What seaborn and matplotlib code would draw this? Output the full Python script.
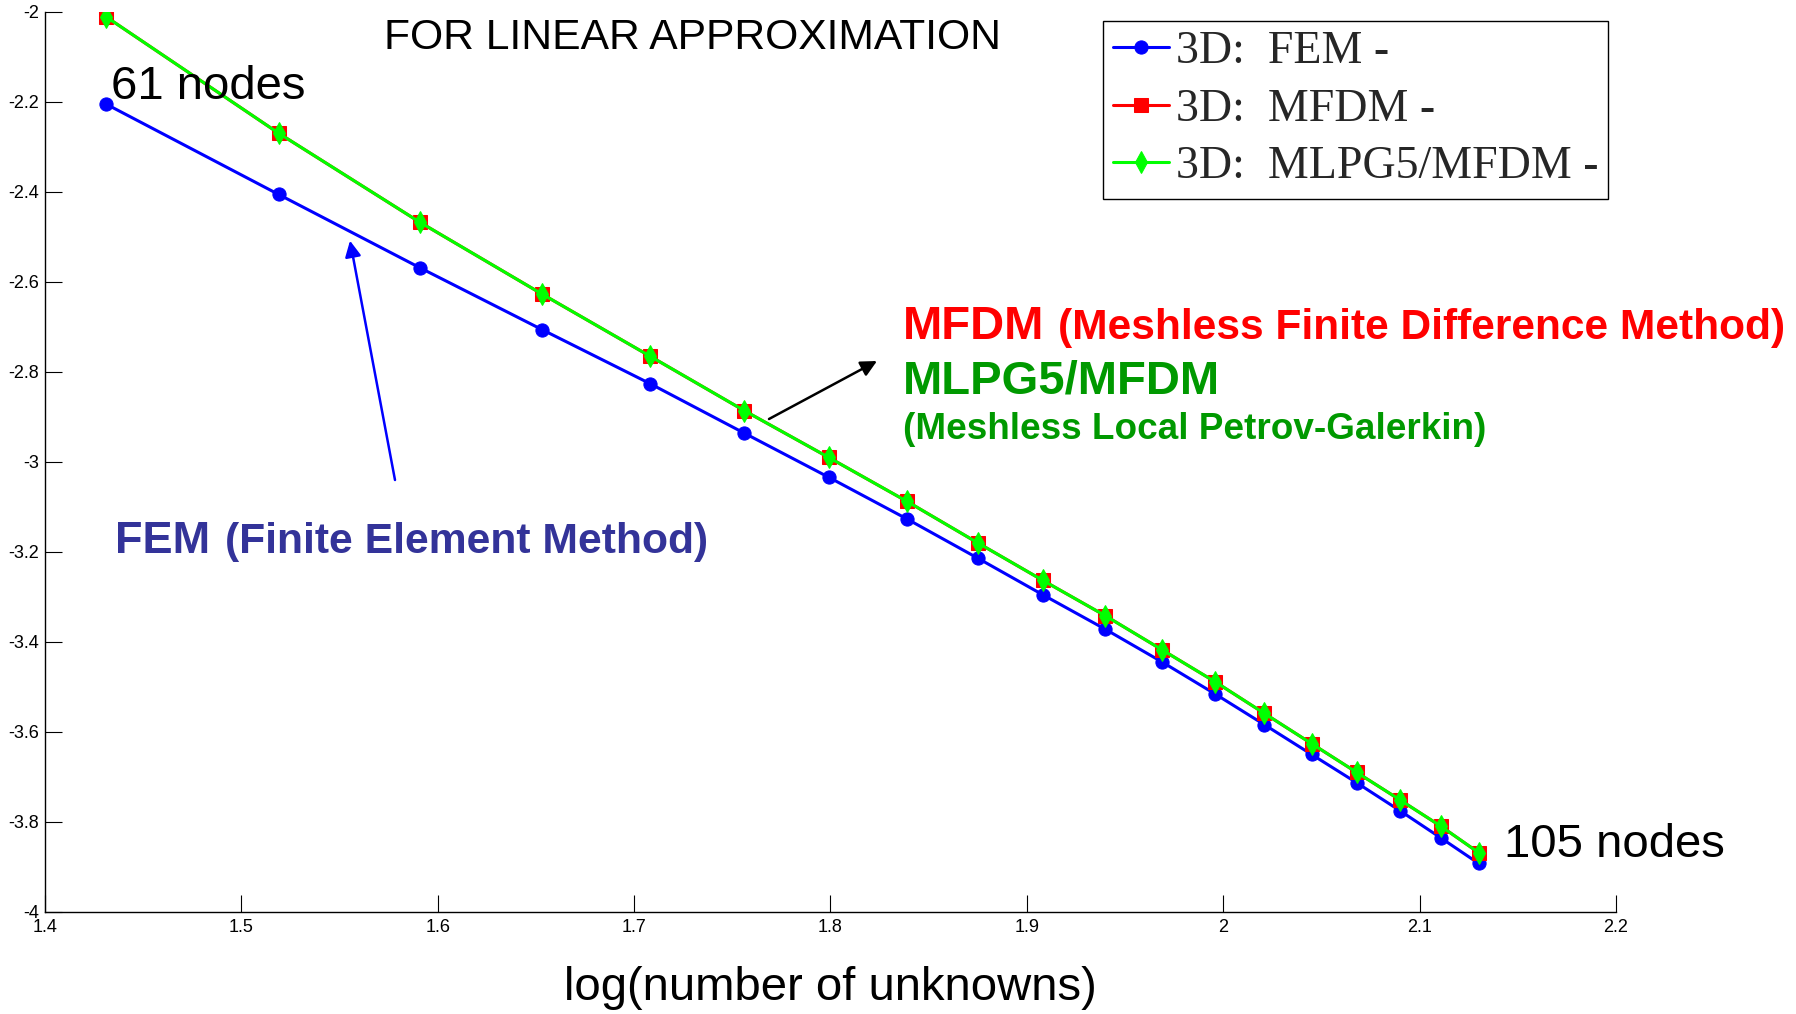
import matplotlib
matplotlib.use("Agg")
import matplotlib.pyplot as plt
import seaborn as sns
import pandas as pd

# ---------------- data ----------------
log_unknowns = [1.431, 1.519, 1.591, 1.653, 1.708, 1.756, 1.799, 1.839, 1.875,
                1.908, 1.940, 1.969, 1.996, 2.021, 2.045, 2.068, 2.090, 2.111, 2.130]
fem_err = [-2.205, -2.406, -2.569, -2.706, -2.826, -2.936, -3.034, -3.127, -3.214,
           -3.295, -3.372, -3.445, -3.516, -3.584, -3.650, -3.713, -3.775, -3.836, -3.892]
mfdm_err = [-2.011, -2.270, -2.468, -2.627, -2.765, -2.886, -2.990, -3.088, -3.180,
            -3.263, -3.342, -3.418, -3.489, -3.559, -3.626, -3.690, -3.751, -3.810, -3.868]
mlpg_err = [-2.011, -2.270, -2.468, -2.627, -2.765, -2.886, -2.990, -3.088, -3.180,
            -3.263, -3.342, -3.418, -3.489, -3.559, -3.626, -3.690, -3.751, -3.810, -3.868]
series_labels = ["3D:  FEM -", "3D:  MFDM -", "3D:  MLPG5/MFDM -"]
x_ticks = [1.4, 1.5, 1.6, 1.7, 1.8, 1.9, 2.0, 2.1, 2.2]
x_tick_labels = ["1.4", "1.5", "1.6", "1.7", "1.8", "1.9", "2", "2.1", "2.2"]
y_ticks = [-4, -3.8, -3.6, -3.4, -3.2, -3, -2.8, -2.6, -2.4, -2.2, -2]
y_tick_labels = ["-4", "-3.8", "-3.6", "-3.4", "-3.2", "-3", "-2.8", "-2.6", "-2.4", "-2.2", "-2"]

# ---------------- styling ----------------
sns.set_style("white")
plt.rcParams["font.family"] = ["Liberation Sans", "DejaVu Sans"]
plt.rcParams["axes.unicode_minus"] = False

W, H = 1796, 1014
fig = plt.figure(figsize=(W / 100, H / 100), dpi=100)
ax = fig.add_axes([45 / W, 1 - 912 / H, (1616 - 45) / W, (912 - 11.7) / H])


def fx(px):
    return px / W


def fy(py):
    return 1 - py / H


df = pd.DataFrame({"x": log_unknowns, "fem": fem_err, "mfdm": mfdm_err, "mlpg": mlpg_err})

sns.lineplot(data=df, x="x", y="fem", ax=ax, color="#0000FF", linewidth=2.2,
             marker="o", markersize=9.5, markeredgecolor="#0000FF", label=series_labels[0])
sns.lineplot(data=df, x="x", y="mfdm", ax=ax, color="#FF0000", linewidth=2.2,
             marker="s", markersize=9.5, markeredgecolor="#FF0000", label=series_labels[1])
sns.lineplot(data=df, x="x", y="mlpg", ax=ax, color="#00FF00", linewidth=2.2,
             marker="d", markersize=11, markeredgecolor="#00FF00", label=series_labels[2])

ax.set_xlim(1.4, 2.2)
ax.set_ylim(-4, -2)
ax.set_xticks(x_ticks)
ax.set_xticklabels(x_tick_labels)
ax.set_yticks(y_ticks)
ax.set_yticklabels(y_tick_labels)
ax.tick_params(axis="both", which="major", bottom=True, left=True, top=False, right=False,
               direction="in", length=12, width=0.8, color="black",
               labelsize=13, labelcolor="black")
ax.tick_params(axis="x", pad=5)
ax.tick_params(axis="y", pad=4)
for side in ["top", "right"]:
    ax.spines[side].set_visible(False)
for side in ["left", "bottom"]:
    ax.spines[side].set_color("black")
    ax.spines[side].set_linewidth(1.0)
ax.set_ylabel("")
ax.set_xlabel("log(number of unknowns)", fontsize=34, labelpad=22, color="black")

leg = ax.legend(loc="upper left", bbox_to_anchor=(fx(1103), fy(20.6)),
                bbox_transform=fig.transFigure, borderaxespad=0,
                prop={"family": "Liberation Serif", "size": 33},
                handlelength=1.22, handletextpad=0.15, borderpad=0.22,
                labelspacing=0.33, fancybox=False, framealpha=1, edgecolor="black")
leg.get_frame().set_linewidth(1.0)

# ---------------- texts ----------------
fig.text(fx(693), fy(49), "FOR LINEAR APPROXIMATION", ha="center", va="baseline",
         fontsize=30.7, color="black")
fig.text(fx(111), fy(99), "61 nodes", ha="left", va="baseline", fontsize=34, color="black")
fig.text(fx(1504), fy(857), "105 nodes", ha="left", va="baseline", fontsize=34, color="black")

fig.text(fx(903), fy(339), "MFDM", ha="left", va="baseline", fontsize=34,
         fontweight="bold", color="#FF0000")
fig.text(fx(1058), fy(339), "(Meshless Finite Difference Method)", ha="left",
         va="baseline", fontsize=30.6, fontweight="bold", color="#FF0000")
fig.text(fx(903), fy(394), "MLPG5/MFDM", ha="left", va="baseline", fontsize=34,
         fontweight="bold", color="#009900")
fig.text(fx(903), fy(439), "(Meshless Local Petrov-Galerkin)", ha="left",
         va="baseline", fontsize=26.6, fontweight="bold", color="#009900")
fig.text(fx(115), fy(553), "FEM", ha="left", va="baseline", fontsize=32.5,
         fontweight="bold", color="#333399")
fig.text(fx(225), fy(553), "(Finite Element Method)", ha="left", va="baseline",
         fontsize=30.7, fontweight="bold", color="#333399")

# ---------------- arrows ----------------
ax.annotate("", xy=(fx(350), fy(240.7)), xytext=(fx(395), fy(480)),
            xycoords="figure fraction", textcoords="figure fraction",
            arrowprops=dict(arrowstyle="-|>", color="#0000FF", lw=1.8,
                            mutation_scale=24, shrinkA=0, shrinkB=0))
ax.annotate("", xy=(fx(877), fy(361)), xytext=(fx(769), fy(419)),
            xycoords="figure fraction", textcoords="figure fraction",
            arrowprops=dict(arrowstyle="-|>", color="black", lw=1.8,
                            mutation_scale=24, shrinkA=0, shrinkB=0))

fig.savefig("out.png", dpi=100)
